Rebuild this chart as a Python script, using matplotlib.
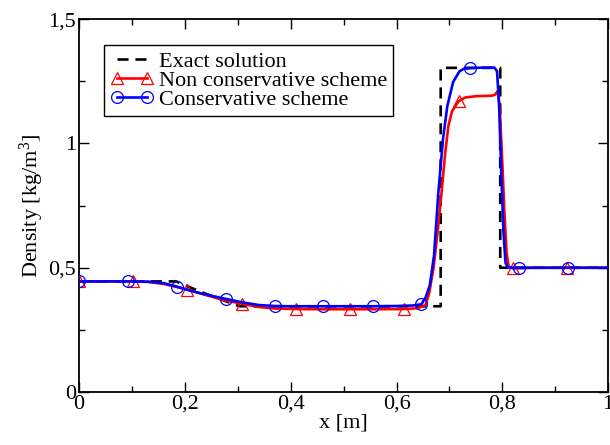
import numpy as np
import matplotlib
matplotlib.use("Agg")
import matplotlib.pyplot as plt

plt.rcParams['font.family'] = ['Liberation Serif', 'DejaVu Serif']
plt.rcParams['mathtext.fontset'] = 'custom'
plt.rcParams['mathtext.rm'] = 'Liberation Serif'
plt.rcParams['mathtext.it'] = 'Liberation Serif:italic'

# Exact Riemann solution (density profile)
x_exact = [0.0, 0.184, 0.21, 0.24, 0.27, 0.304, 0.6835, 0.6835, 0.796, 0.796, 1.0]
rho_exact = [0.445, 0.445, 0.421, 0.395, 0.371, 0.345, 0.345, 1.304, 1.304, 0.5, 0.5]

# Non conservative scheme
x_noncons = [0.0, 0.05, 0.1025, 0.13, 0.16, 0.205, 0.24, 0.27, 0.3075, 0.34, 0.37,
             0.41, 0.46, 0.5125, 0.56, 0.615, 0.64, 0.655, 0.662, 0.670, 0.678,
             0.685, 0.692, 0.698, 0.705, 0.7175, 0.73, 0.75, 0.78, 0.786, 0.791,
             0.795, 0.800, 0.804, 0.808, 0.812, 0.82, 0.86, 0.9225, 1.0]
rho_noncons = [0.445, 0.445, 0.445, 0.443, 0.435, 0.412, 0.390, 0.372, 0.355, 0.342, 0.336,
               0.334, 0.333, 0.333, 0.333, 0.334, 0.337, 0.350, 0.400, 0.500, 0.650,
               0.800, 0.960, 1.070, 1.130, 1.170, 1.185, 1.190, 1.192, 1.196, 1.210,
               1.150, 0.920, 0.720, 0.560, 0.505, 0.497, 0.500, 0.500, 0.500]
marks_noncons = [0.0, 0.1025, 0.205, 0.3075, 0.41, 0.5125, 0.615, 0.7175, 0.82, 0.9225]

# Conservative scheme
x_cons = [0.0, 0.05, 0.0924, 0.13, 0.16, 0.185, 0.21, 0.24, 0.277, 0.31, 0.34,
          0.37, 0.40, 0.462, 0.50, 0.555, 0.60, 0.63, 0.647, 0.655, 0.663,
          0.671, 0.679, 0.688, 0.696, 0.707, 0.719, 0.727, 0.739, 0.76, 0.785,
          0.790, 0.794, 0.798, 0.802, 0.806, 0.81, 0.82, 0.832, 0.88, 0.924, 1.0]
rho_cons = [0.445, 0.445, 0.445, 0.444, 0.438, 0.424, 0.408, 0.392, 0.375, 0.360, 0.350,
            0.346, 0.345, 0.345, 0.345, 0.345, 0.346, 0.348, 0.353, 0.380, 0.430,
            0.550, 0.800, 1.020, 1.150, 1.247, 1.290, 1.300, 1.303, 1.305, 1.305,
            1.290, 1.150, 0.880, 0.650, 0.520, 0.502, 0.500, 0.500, 0.500, 0.500, 0.500]
marks_cons = [0.0, 0.0924, 0.185, 0.277, 0.37, 0.462, 0.555, 0.647, 0.739, 0.832, 0.924]

x_ticks = [0, 0.2, 0.4, 0.6, 0.8, 1.0]
x_ticklabels = ['0', '0,2', '0,4', '0,6', '0,8', '1']
y_ticks = [0, 0.5, 1.0, 1.5]
y_ticklabels = ['0', '0,5', '1', '1,5']


def mark_indices(xs, marks):
    return [i for i, v in enumerate(xs) if any(abs(v - m) < 1e-9 for m in marks)]


fig = plt.figure(figsize=(6.10, 4.45), dpi=100)
ax = fig.add_axes([0.1295, 0.119, 0.8675, 0.838])

ax.plot(x_exact, rho_exact, color='black', lw=1.9, dashes=[4.2, 2.6],
        label='Exact solution', zorder=2)
ax.plot(x_noncons, rho_noncons, color='#ff0000', lw=1.9, marker='^', ms=8.5,
        mfc='none', mec='#ff0000', mew=0.9,
        markevery=mark_indices(x_noncons, marks_noncons),
        label='Non conservative scheme', zorder=3)
ax.plot(x_cons, rho_cons, color='#0000ff', lw=1.9, marker='o', ms=8.5,
        mfc='none', mec='#0000ff', mew=0.9,
        markevery=mark_indices(x_cons, marks_cons),
        label='Conservative scheme', zorder=4)

ax.set_xlim(0, 1)
ax.set_ylim(0, 1.5)
ax.set_xticks(x_ticks)
ax.set_xticklabels(x_ticklabels)
ax.set_yticks(y_ticks)
ax.set_yticklabels(y_ticklabels)
ax.set_xticks(np.arange(0.1, 1.0, 0.2), minor=True)
ax.set_yticks([0.25, 0.75, 1.25], minor=True)
ax.tick_params(which='both', direction='in', top=True, right=True,
               labelsize=16, width=1.0)
ax.tick_params(which='major', length=7, pad=2)
ax.tick_params(which='minor', length=4)
for s in ax.spines.values():
    s.set_linewidth(1.3)

ax.set_xlabel('x [m]', fontsize=16, labelpad=0)
ax.set_ylabel('Density [kg/m$^3$]', fontsize=16, labelpad=2)

leg = ax.legend(loc='upper left', bbox_to_anchor=(0.047, 0.93), borderaxespad=0,
                fontsize=16, frameon=True, fancybox=False, framealpha=1,
                edgecolor='black', numpoints=2, handlelength=1.95,
                handletextpad=0.25, labelspacing=-0.07, borderpad=0.27)
leg.get_frame().set_linewidth(1.0)

fig.savefig('out.png', dpi=100)
